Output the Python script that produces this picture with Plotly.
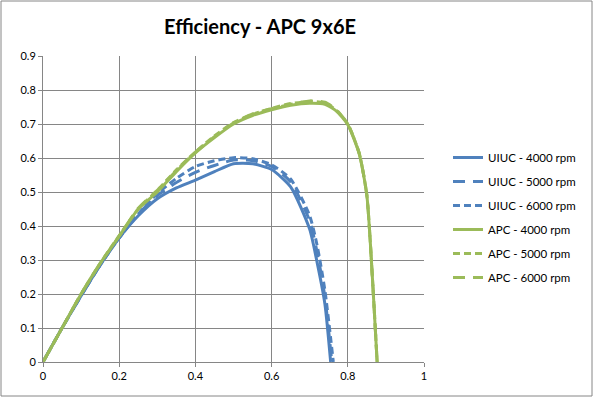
import plotly.graph_objects as go

# Advance ratio J values and efficiencies
uiuc_J = [0, 0.05, 0.1, 0.15, 0.2, 0.25, 0.3, 0.35, 0.4, 0.45, 0.5, 0.55, 0.6, 0.65, 0.7, 0.72, 0.74, 0.755]
uiuc_4000 = [0, 0.10, 0.195, 0.285, 0.365, 0.43, 0.48, 0.512, 0.535, 0.56, 0.583, 0.583, 0.566, 0.515, 0.39, 0.29, 0.17, 0.0]

uiuc5_J = [0, 0.05, 0.1, 0.15, 0.2, 0.25, 0.3, 0.35, 0.4, 0.45, 0.5, 0.55, 0.6, 0.65, 0.7, 0.72, 0.74, 0.758]
uiuc_5000 = [0, 0.10, 0.195, 0.285, 0.365, 0.435, 0.49, 0.528, 0.558, 0.578, 0.594, 0.592, 0.575, 0.53, 0.415, 0.32, 0.19, 0.0]

uiuc6_J = [0, 0.05, 0.1, 0.15, 0.2, 0.25, 0.3, 0.35, 0.4, 0.45, 0.5, 0.55, 0.6, 0.65, 0.7, 0.72, 0.74, 0.762]
uiuc_6000 = [0, 0.10, 0.195, 0.285, 0.365, 0.435, 0.495, 0.54, 0.575, 0.592, 0.601, 0.598, 0.58, 0.538, 0.43, 0.34, 0.21, 0.0]

apc_J = [0, 0.05, 0.1, 0.15, 0.2, 0.25, 0.3, 0.35, 0.4, 0.45, 0.5, 0.55, 0.6, 0.65, 0.7, 0.74, 0.77, 0.8, 0.83, 0.85, 0.865, 0.877]
apc_4000 = [0, 0.10, 0.20, 0.29, 0.37, 0.45, 0.50, 0.56, 0.615, 0.66, 0.70, 0.725, 0.742, 0.755, 0.761, 0.758, 0.738, 0.698, 0.612, 0.49, 0.24, 0.0]
apc_5000 = [0, 0.10, 0.20, 0.29, 0.372, 0.45, 0.505, 0.565, 0.618, 0.665, 0.704, 0.728, 0.746, 0.76, 0.766, 0.762, 0.74, 0.70, 0.614, 0.49, 0.24, 0.0]
apc_6000 = [0, 0.10, 0.20, 0.29, 0.37, 0.452, 0.505, 0.563, 0.617, 0.663, 0.703, 0.73, 0.745, 0.758, 0.768, 0.764, 0.742, 0.70, 0.614, 0.49, 0.24, 0.0]

x_ticks = [0, 0.2, 0.4, 0.6, 0.8, 1]
x_labels = ["0", "0.2", "0.4", "0.6", "0.8", "1"]
y_ticks = [0, 0.1, 0.2, 0.3, 0.4, 0.5, 0.6, 0.7, 0.8, 0.9]
y_labels = ["0", "0.1", "0.2", "0.3", "0.4", "0.5", "0.6", "0.7", "0.8", "0.9"]

BLUE = "#4F81BD"
GREEN = "#9BBB59"
FONT = "Lato, 'Open Sans', sans-serif"

series = [
    ("UIUC - 4000 rpm", uiuc_J, uiuc_4000, BLUE, "solid"),
    ("UIUC - 5000 rpm", uiuc5_J, uiuc_5000, BLUE, "12px,8px"),
    ("UIUC - 6000 rpm", uiuc6_J, uiuc_6000, BLUE, "7px,4px"),
    ("APC - 4000 rpm", apc_J, apc_4000, GREEN, "solid"),
    ("APC - 5000 rpm", apc_J, apc_5000, GREEN, "7px,4px"),
    ("APC - 6000 rpm", apc_J, apc_6000, GREEN, "12px,8px"),
]

fig = go.Figure()
for i, (name, xs, ys, col, dash) in enumerate(series):
    fig.add_trace(go.Scatter(
        x=xs, y=ys, mode="lines", name=name, legendgroup=str(i),
        line=dict(color=col, width=3, dash=dash, shape="spline", smoothing=0.6),
    ))

fig.update_layout(
    width=594, height=398,
    margin=dict(l=43, r=170, t=56, b=36, autoexpand=False),
    paper_bgcolor="white", plot_bgcolor="white",
    font=dict(family=FONT, size=11, color="#000000"),
    title=dict(text="<b>Efficiency - APC 9x6E</b>", x=260 / 594, xanchor="center",
               y=1 - 27 / 398, yanchor="middle",
               font=dict(family=FONT, size=20, color="#000000")),
    showlegend=True,
    legend=dict(x=(448 - 43) / 381, xanchor="left", y=(362 - 143) / 306, yanchor="top",
                font=dict(family=FONT, size=11.5, color="#000000"),
                tracegroupgap=5, bgcolor="rgba(0,0,0,0)"),
    xaxis=dict(range=[0, 1], tickvals=x_ticks, ticktext=x_labels,
               showgrid=True, gridcolor="#868686", gridwidth=1,
               showline=True, linecolor="#868686", linewidth=1,
               ticks="outside", ticklen=4, tickcolor="#868686",
               zeroline=False, automargin=False, fixedrange=True),
    yaxis=dict(range=[0, 0.9], tickvals=y_ticks, ticktext=y_labels,
               showgrid=True, gridcolor="#868686", gridwidth=1,
               showline=True, linecolor="#868686", linewidth=1,
               ticks="outside", ticklen=4, tickcolor="#868686",
               zeroline=False, automargin=False, fixedrange=True),
    shapes=[dict(type="rect", xref="paper", yref="paper",
                 x0=(1 - 43) / 381, x1=(592 - 43) / 381,
                 y0=(362 - 396) / 306, y1=(362 - 1) / 306,
                 line=dict(color="#868686", width=1), fillcolor="rgba(0,0,0,0)", layer="below")],
)

fig.write_html("out.html", config={"displayModeBar": False},
               post_script="document.body.style.margin='0';")
